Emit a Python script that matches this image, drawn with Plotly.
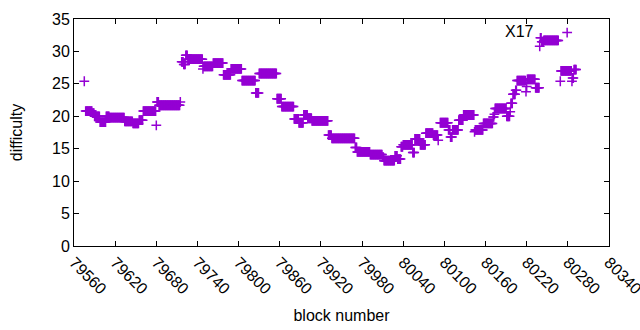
import plotly.graph_objects as go

# Runs of blocks sharing the same difficulty (first block, last block, difficulty)
run_start = [79575, 79577, 79587, 79590, 79598, 79607, 79612, 79634, 79646, 79655,
             79661, 79680, 79681, 79684, 79715, 79717, 79720, 79723, 79726, 79748,
             79749, 79763, 79778, 79789, 79805, 79825, 79830, 79856, 79863, 79881,
             79888, 79895, 79901, 79907, 79931, 79936, 79970, 79973, 79992, 80010,
             80012, 80028, 80032, 80037, 80040, 80054, 80057, 80065, 80073, 80084,
             80091, 80094, 80106, 80109, 80112, 80121, 80128, 80144, 80145, 80157,
             80171, 80173, 80174, 80191, 80196, 80197, 80200, 80204, 80206, 80219,
             80220, 80221, 80233, 80239, 80240, 80242, 80245, 80269, 80270, 80279,
             80286, 80287, 80289]
run_end = [79575, 79586, 79589, 79597, 79606, 79611, 79633, 79645, 79654, 79660,
           79679, 79680, 79683, 79714, 79715, 79719, 79722, 79725, 79747, 79748,
           79762, 79777, 79788, 79804, 79824, 79829, 79855, 79862, 79880, 79887,
           79894, 79900, 79906, 79930, 79935, 79969, 79972, 79991, 80009, 80011,
           80027, 80031, 80036, 80039, 80053, 80056, 80064, 80072, 80083, 80090,
           80091, 80105, 80108, 80111, 80120, 80127, 80143, 80144, 80156, 80170,
           80172, 80173, 80190, 80195, 80196, 80199, 80203, 80205, 80218, 80219,
           80220, 80232, 80238, 80239, 80241, 80244, 80266, 80269, 80285, 80279,
           80286, 80288, 80292]
run_value = [25.4, 20.8, 20.5, 20.0, 19.1, 20.0, 19.8, 19.2, 18.9, 19.4,
             20.8, 18.6, 22.2, 21.7, 22.2, 28.4, 28.0, 29.4, 28.8, 27.3,
             27.7, 28.2, 26.4, 27.3, 25.5, 23.6, 26.6, 22.7, 21.5, 19.6,
             19.0, 20.2, 19.7, 19.3, 17.1, 16.6, 15.2, 14.5, 14.1, 13.7,
             13.15, 13.9, 13.4, 15.3, 15.6, 14.4, 16.5, 15.6, 17.4, 17.1,
             16.3, 19.0, 17.9, 16.8, 17.9, 19.4, 20.2, 17.6, 17.9, 18.9,
             19.9, 20.3, 21.2, 20.0, 20.7, 22.0, 23.4, 24.0, 25.5, 23.8,
             24.6, 25.7, 24.4, 30.8, 32.1, 31.5, 31.7, 25.4, 27.0, 32.9,
             25.4, 25.9, 27.2]

x_ticks = [79560, 79620, 79680, 79740, 79800, 79860, 79920, 79980,
           80040, 80100, 80160, 80220, 80280, 80340]
y_ticks = [0, 5, 10, 15, 20, 25, 30, 35]

blocks, diffs = [], []
for s, e, v in zip(run_start, run_end, run_value):
    for b in range(s, e + 1):
        blocks.append(b)
        diffs.append(v)

fig = go.Figure()
fig.add_trace(go.Scatter(
    x=blocks, y=diffs, mode="markers",
    marker=dict(symbol="cross-thin", size=7, color="#9400D3",
                line=dict(color="#9400D3", width=1.5)),
    showlegend=False, cliponaxis=False,
))

fig.add_annotation(x=80233, y=33.0, xref="x", yref="y", text="X17",
                   showarrow=False, xanchor="right", yanchor="middle",
                   font=dict(size=16, color="black"))

axis_common = dict(showline=True, linecolor="black", linewidth=1, mirror="allticks",
                   ticks="inside", ticklen=5, tickcolor="black", showgrid=False,
                   zeroline=False, automargin=False,
                   tickfont=dict(size=16, color="black"))
fig.update_xaxes(range=[79559.99, 80340.01], tickvals=x_ticks,
                 ticktext=[str(t) for t in x_ticks], tickangle=45,
                 ticklabeloverflow="allow",
                 title=dict(text="block number", font=dict(size=16, color="black"), standoff=13),
                 **axis_common)
fig.update_yaxes(range=[0, 35], tickvals=y_ticks,
                 title=dict(text="difficulty", font=dict(size=16, color="black"), standoff=25),
                 **axis_common)

fig.update_layout(
    width=640, height=330,
    margin=dict(l=74, r=31, t=19, b=84),
    plot_bgcolor="white", paper_bgcolor="white",
    font=dict(family="Liberation Sans, Arial, sans-serif", size=16, color="black"),
)

fig.write_html("out.html", config={"displayModeBar": False},
               post_script="document.body.style.margin='0';document.body.style.overflow='hidden';")
